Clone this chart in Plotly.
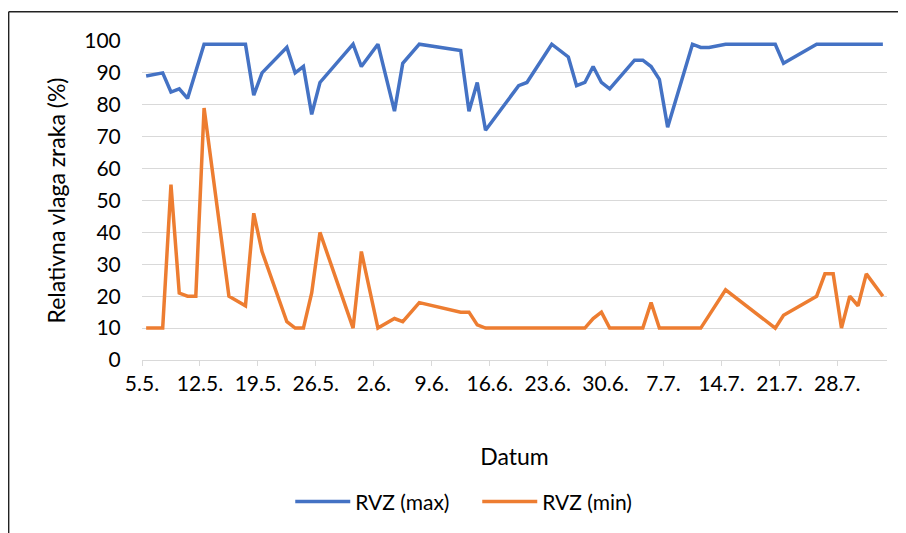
import pandas as pd
import plotly.graph_objects as go

# Measurement dates (year arbitrary; only day.month shown)
dates = ["2023-05-05", "2023-05-07", "2023-05-08", "2023-05-09", "2023-05-10", "2023-05-11",
         "2023-05-12", "2023-05-15", "2023-05-17", "2023-05-18", "2023-05-19", "2023-05-22",
         "2023-05-23", "2023-05-24", "2023-05-25", "2023-05-26", "2023-05-30", "2023-05-31",
         "2023-06-02", "2023-06-04", "2023-06-05", "2023-06-07", "2023-06-12", "2023-06-13",
         "2023-06-14", "2023-06-15", "2023-06-19", "2023-06-20", "2023-06-23", "2023-06-25",
         "2023-06-26", "2023-06-27", "2023-06-28", "2023-06-29", "2023-06-30", "2023-07-03",
         "2023-07-04", "2023-07-05", "2023-07-06", "2023-07-07", "2023-07-10", "2023-07-11",
         "2023-07-12", "2023-07-14", "2023-07-20", "2023-07-21", "2023-07-25", "2023-07-26",
         "2023-07-27", "2023-07-28", "2023-07-29", "2023-07-30", "2023-07-31", "2023-08-02"]

rvz_max = [89, 90, 84, 85, 82, 91,
           99, 99, 99, 83, 90, 98,
           90, 92, 77, 87, 99, 92,
           99, 78, 93, 99, 97, 78,
           87, 72, 86, 87, 99, 95,
           86, 87, 92, 87, 85, 94,
           94, 92, 88, 73, 99, 98,
           98, 99, 99, 93, 99, 99,
           99, 99, 99, 99, 99, 99]

rvz_min = [10, 10, 55, 21, 20, 20,
           79, 20, 17, 46, 34, 12,
           10, 10, 21, 40, 10, 34,
           10, 13, 12, 18, 15, 15,
           11, 10, 10, 10, 10, 10,
           10, 10, 13, 15, 10, 10,
           10, 18, 10, 10, 10, 10,
           14, 22, 10, 14, 20, 27,
           27, 10, 20, 17, 27, 20]

tick_labels = ["5.5.", "12.5.", "19.5.", "26.5.", "2.6.", "9.6.", "16.6.",
               "23.6.", "30.6.", "7.7.", "14.7.", "21.7.", "28.7."]

x = pd.to_datetime(dates)
tick_pos = pd.date_range("2023-05-04 12:00", periods=len(tick_labels), freq="7D")

FONT = "Lato, Calibri, Carlito, sans-serif"
GRID = "#d9d9d9"
FS = 21
FT = 23

fig = go.Figure()
fig.add_trace(go.Scatter(x=x, y=rvz_max, mode="lines", name="RVZ (max)",
                         line=dict(color="#4472C4", width=3.5)))
fig.add_trace(go.Scatter(x=x, y=rvz_min, mode="lines", name="RVZ (min)",
                         line=dict(color="#ED7D31", width=3.5)))

fig.update_layout(
    width=898, height=525,
    margin=dict(l=134, r=19, t=33, b=172),
    paper_bgcolor="white", plot_bgcolor="white",
    font=dict(family=FONT, size=FS, color="#000000"),
    showlegend=True,
    legend=dict(orientation="h", x=0.199, xanchor="left", y=-0.44, yanchor="middle",
                font=dict(size=FS), traceorder="normal",
                entrywidth=117, entrywidthmode="pixels", itemwidth=55),
    xaxis=dict(
        range=[pd.Timestamp("2023-05-04 12:00"), pd.Timestamp("2023-08-02 12:00")],
        tickmode="array", tickvals=tick_pos, ticktext=tick_labels,
        showgrid=False, zeroline=False, automargin=False,
        showline=True, linecolor=GRID, linewidth=1,
        ticks="outside", ticklen=5, tickcolor=GRID, tickwidth=1,
        tickfont=dict(size=FS),
        title=dict(text="Datum", font=dict(size=FT), standoff=54),
    ),
    yaxis=dict(
        range=[0, 100], dtick=10, tick0=0,
        showgrid=True, gridcolor=GRID, gridwidth=1,
        zeroline=False, showline=False, automargin=False,
        ticks="outside", ticklen=16, tickcolor="rgba(0,0,0,0)",
        tickfont=dict(size=FS),
        title=dict(text="Relativna vlaga zraka (%)", font=dict(size=FT), standoff=12),
    ),
    shapes=[
        dict(type="line", xref="paper", yref="paper", x0=-0.179, x1=1.1, y0=1.092, y1=1.092,
             line=dict(color="#222222", width=1.5)),
        dict(type="line", xref="paper", yref="paper", x0=-0.179, x1=-0.179, y0=1.092, y1=-0.7,
             line=dict(color="#222222", width=1.5)),
    ],
)

fig.write_html("out.html")
